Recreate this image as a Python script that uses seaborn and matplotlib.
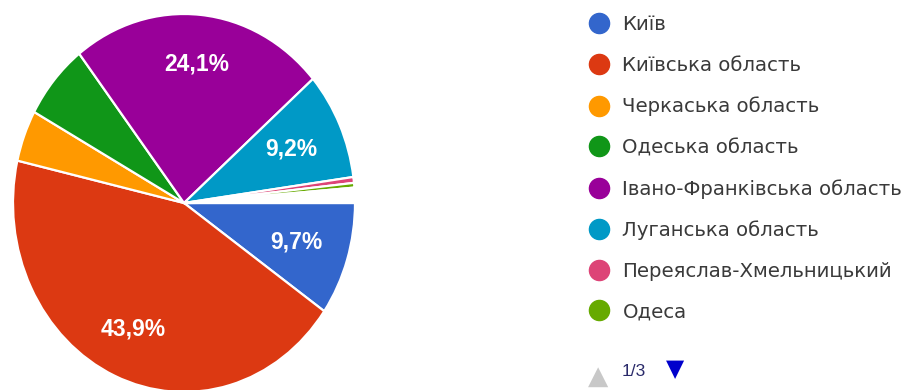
import matplotlib
matplotlib.use("Agg")
import matplotlib.pyplot as plt
from matplotlib.lines import Line2D
import numpy as np
import seaborn as sns

# Regions of residence (legend page 1 of 3), share of responses in %
regions = [
    "Київ",
    "Київська область",
    "Черкаська область",
    "Одеська область",
    "Івано-Франківська область",
    "Луганська область",
    "Переяслав-Хмельницький",
    "Одеса",
]
shares = [9.7, 43.9, 4.4, 6.5, 24.1, 9.2, 0.5, 0.4]
# remaining answers listed on legend pages 2 and 3
more_shares = [0.15, 0.15, 0.15, 0.15, 0.15, 0.15, 0.15, 0.15, 0.1]

colors = ["#3366cc", "#dc3912", "#ff9900", "#109618",
          "#990099", "#0099c6", "#dd4477", "#66aa00"]
more_colors = ["#b82e2e", "#316395", "#994499", "#22aa99", "#aaaa11",
               "#6633cc", "#e67300", "#8b0707", "#651067"]

legend_page = "1/3"
label_min_share = 9.0

sns.set_theme(style="white")
plt.rcParams["font.family"] = ["Liberation Sans", "DejaVu Sans"]

W, H = 906, 390
fig = plt.figure(figsize=(W / 100, H / 100), dpi=100)
fig.patch.set_facecolor("white")

# pie area (slightly taller than wide)
ax = fig.add_axes([13 / W, (H - 392) / H, 342 / W, 378 / H])
wedges, _ = ax.pie(
    shares + more_shares,
    colors=colors + more_colors,
    startangle=0,
    counterclock=False,
    wedgeprops=dict(edgecolor="white", linewidth=1.6),
)
ax.set_aspect("auto")
ax.set_xlim(-1, 1)
ax.set_ylim(-1, 1)
ax.axis("off")

# percentage labels on the large slices
for w, v in zip(wedges, shares):
    if v < label_min_share:
        continue
    mid = np.deg2rad((w.theta1 + w.theta2) / 2)
    r = 0.74 if 20 < v < 30 else (0.73 if v > 30 else 0.69)
    ax.text(r * np.cos(mid), r * np.sin(mid),
            f"{v:.1f}%".replace(".", ","),
            ha="center", va="center", color="white",
            fontsize=16.5, fontweight="bold")

# legend
handles = [Line2D([], [], linestyle="none", marker="o", markersize=14.5,
                  markerfacecolor=c, markeredgecolor=c) for c in colors]
leg = fig.legend(handles, regions, loc="upper left",
                 bbox_to_anchor=(579 / W, 1 - 7.5 / H), frameon=False,
                 prop=dict(family="DejaVu Sans", size=14.2),
                 labelspacing=1.10, handletextpad=0.6,
                 handlelength=1.2, borderaxespad=0)
for t in leg.get_texts():
    t.set_color("#3a3a3a")

# page navigation under the legend
fig.text(598 / W, 1 - 377 / H, "▲", ha="center", va="center", fontsize=19,
         color="#c8c8c8", family="DejaVu Sans")
fig.text(622 / W, 1 - 372 / H, legend_page, ha="left", va="center",
         fontsize=12.5, color="#2a2a6a")
fig.text(675 / W, 1 - 369 / H, "▼", ha="center", va="center", fontsize=17,
         color="#0000cc", family="DejaVu Sans")

fig.savefig("out.png", dpi=100, facecolor="white")
